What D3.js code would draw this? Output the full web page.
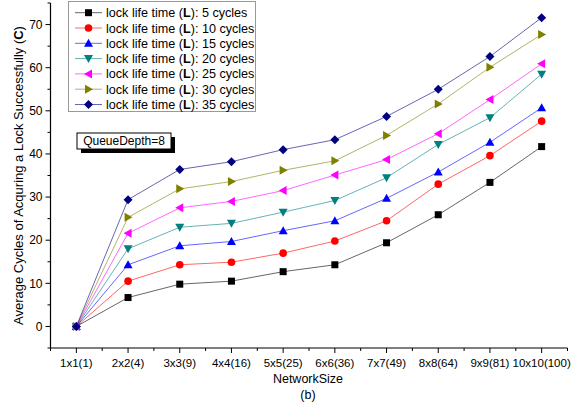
<!DOCTYPE html>
<html>
<head>
<meta charset="utf-8">
<script src="https://cdnjs.cloudflare.com/ajax/libs/d3/7.8.5/d3.min.js"></script>
<style>
  body { margin: 0; background: #fff; }
  svg { font-family: "Liberation Sans", Arial, sans-serif; }
</style>
</head>
<body>
<div id="chart"></div>
<script>
const networkSizes = ["1x1(1)", "2x2(4)", "3x3(9)", "4x4(16)", "5x5(25)", "6x6(36)", "7x7(49)", "8x8(64)", "9x9(81)", "10x10(100)"];
const lifeTimes = [5, 10, 15, 20, 25, 30, 35];

const cyclesL5 = [0, 6.7, 9.8, 10.5, 12.7, 14.3, 19.4, 25.9, 33.4, 41.7];
const cyclesL10 = [0, 10.5, 14.3, 14.9, 17.0, 19.8, 24.5, 33.0, 39.6, 47.6];
const cyclesL15 = [0, 14.3, 18.7, 19.7, 22.2, 24.5, 29.7, 35.8, 42.7, 50.7];
const cyclesL20 = [0, 18.0, 23.0, 23.9, 26.5, 29.2, 34.5, 42.2, 48.4, 58.5];
const cyclesL25 = [0, 21.6, 27.5, 29.0, 31.5, 35.1, 38.7, 44.7, 52.6, 60.9];
const cyclesL30 = [0, 25.3, 31.9, 33.6, 36.2, 38.4, 44.3, 51.6, 60.1, 67.7];
const cyclesL35 = [0, 29.4, 36.4, 38.2, 41.0, 43.3, 48.7, 55.0, 62.6, 71.6];

const yTicks = [0, 10, 20, 30, 40, 50, 60, 70];

const seriesList = [cyclesL5, cyclesL10, cyclesL15, cyclesL20, cyclesL25, cyclesL30, cyclesL35];
const colors = ["#000000", "#ff0000", "#0000ff", "#008080", "#ff00ff", "#808000", "#000080"];
const symbols = ["square", "circle", "triangleUp", "triangleDown", "triangleLeft", "triangleRight", "diamond"];

const width = 587, height = 406;
const svg = d3.select("#chart").append("svg")
  .attr("width", width)
  .attr("height", height);

const x = d3.scaleLinear().domain([-0.5, 9.5]).range([50.5, 567.5]);
const y = d3.scaleLinear().domain([-5, 75]).range([348, 3]);

// marker shapes
function marker(g, type, color) {
  if (type === "square") {
    g.append("rect").attr("x", -3.5).attr("y", -3.5).attr("width", 7).attr("height", 7).attr("fill", color);
  } else if (type === "circle") {
    g.append("circle").attr("r", 3.8).attr("fill", color);
  } else if (type === "diamond") {
    g.append("path").attr("d", "M0,-4.5L4.5,0L0,4.5L-4.5,0Z").attr("fill", color);
  } else {
    const pts = {
      triangleUp: "M0,-4.5L4.5,3.5L-4.5,3.5Z",
      triangleDown: "M0,4.5L4.5,-3.5L-4.5,-3.5Z",
      triangleLeft: "M-4.5,0L3.5,-4.5L3.5,4.5Z",
      triangleRight: "M4.5,0L-3.5,-4.5L-3.5,4.5Z",
    };
    g.append("path").attr("d", pts[type]).attr("fill", color);
  }
}

// axes
const xAxis = svg.append("g").attr("transform", "translate(0,348)");
xAxis.append("line").attr("x1", x(-0.5)).attr("x2", x(9.5)).attr("stroke", "#000").attr("stroke-width", 1.2);
d3.range(-0.5, 9.6, 0.5).forEach((t) => {
  const major = Number.isInteger(t);
  xAxis.append("line")
    .attr("x1", x(t)).attr("x2", x(t))
    .attr("y1", 0).attr("y2", major ? 5 : 3)
    .attr("stroke", "#000");
});
xAxis.selectAll(".xt")
  .data(networkSizes)
  .enter()
  .append("text")
  .attr("x", (d, i) => x(i))
  .attr("y", 19)
  .attr("text-anchor", "middle")
  .attr("font-size", 11.5)
  .text((d) => d);

const yAxis = svg.append("g").attr("transform", "translate(50.5,0)");
yAxis.append("line").attr("y1", y(-5)).attr("y2", y(75)).attr("stroke", "#000").attr("stroke-width", 1.2);
d3.range(-5, 76, 5).forEach((t) => {
  const major = t % 10 === 0;
  yAxis.append("line")
    .attr("x1", major ? -5 : -3).attr("x2", 0)
    .attr("y1", y(t)).attr("y2", y(t))
    .attr("stroke", "#000");
});
yAxis.selectAll(".yt")
  .data(yTicks)
  .enter()
  .append("text")
  .attr("x", -8)
  .attr("y", (d) => y(d))
  .attr("dy", "0.35em")
  .attr("text-anchor", "end")
  .attr("font-size", 12)
  .text((d) => d);

svg.append("text")
  .attr("x", 308)
  .attr("y", 383)
  .attr("text-anchor", "middle")
  .attr("font-size", 12.5)
  .text("NetworkSize");
svg.append("text")
  .attr("x", 308)
  .attr("y", 399)
  .attr("text-anchor", "middle")
  .attr("font-size", 12.5)
  .text("(b)");

const yTitle = svg.append("text")
  .attr("transform", "translate(23," + y(35) + ") rotate(-90)")
  .attr("text-anchor", "middle")
  .attr("font-size", 13);
yTitle.append("tspan").text("Average Cycles of Acquring a Lock Successfully (");
yTitle.append("tspan").attr("font-weight", "bold").text("C");
yTitle.append("tspan").text(")");

// lines and markers
const line = d3.line().x((d, i) => x(i)).y((d) => y(d));
seriesList.forEach((vals, s) => {
  svg.append("path")
    .datum(vals)
    .attr("d", line)
    .attr("fill", "none")
    .attr("stroke", colors[s])
    .attr("stroke-opacity", 0.6)
    .attr("stroke-width", 1);
});
seriesList.forEach((vals, s) => {
  vals.forEach((v, i) => {
    const g = svg.append("g").attr("transform", "translate(" + x(i) + "," + y(v) + ")");
    marker(g, symbols[s], colors[s]);
  });
});

// legend
const legend = svg.append("g");
legend.append("rect")
  .attr("x", 68.5).attr("y", 1.5).attr("width", 187).attr("height", 110)
  .attr("fill", "#fff").attr("stroke", "#999").attr("stroke-width", 1);
lifeTimes.forEach((lt, s) => {
  const ly = 12.7 + s * 15.3;
  legend.append("line")
    .attr("x1", 75).attr("x2", 102).attr("y1", ly).attr("y2", ly)
    .attr("stroke", colors[s]).attr("stroke-opacity", 0.6);
  const g = legend.append("g").attr("transform", "translate(88.5," + ly + ")");
  marker(g, symbols[s], colors[s]);
  const t = legend.append("text")
    .attr("x", 106).attr("y", ly).attr("dy", "0.36em")
    .attr("font-size", 12.6);
  t.append("tspan").text("lock life time (");
  t.append("tspan").attr("font-weight", "bold").text("L");
  t.append("tspan").text("): " + lt + " cycles");
});

// QueueDepth note
svg.append("rect")
  .attr("x", 81).attr("y", 137).attr("width", 94).attr("height", 16)
  .attr("fill", "#000");
svg.append("rect")
  .attr("x", 77).attr("y", 133).attr("width", 94).attr("height", 16)
  .attr("fill", "#fff").attr("stroke", "#000").attr("stroke-width", 1);
svg.append("text")
  .attr("x", 124).attr("y", 141).attr("dy", "0.36em")
  .attr("text-anchor", "middle")
  .attr("font-size", 12)
  .text("QueueDepth=8");
</script>
</body>
</html>
